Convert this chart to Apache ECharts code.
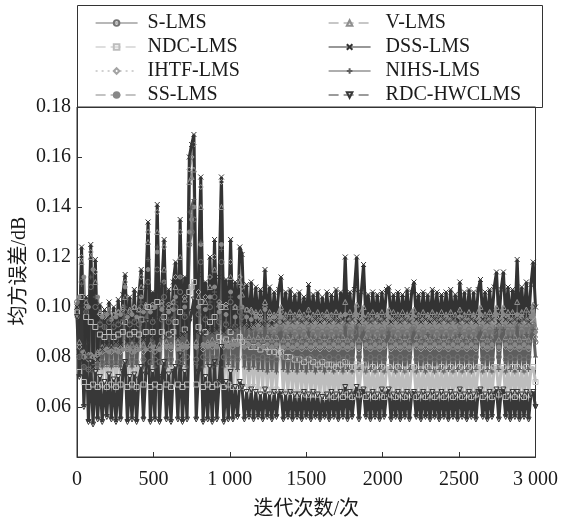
<!DOCTYPE html>
<html>
<head>
<meta charset="utf-8">
<script src="https://cdn.jsdelivr.net/npm/echarts@6/dist/echarts.min.js"></script>
<style>
  html, body { margin: 0; padding: 0; background: #fff; }
  #chart { width: 561px; height: 525px; }
</style>
</head>
<body>
<div id="chart"></div>
<script>
// Mean-square error of eight adaptive filters, sampled every 15 iterations (0 … 3000)
const ITER_STEP = 15;

const xTickLabels = ['0', '500', '1 000', '1500', '2000', '2500', '3 000'];
const yTickLabels = ['', '0.06', '0.08', '0.10', '0.12', '0.14', '0.16', '0.18'];

const legendLeft = ['S-LMS', 'NDC-LMS', 'IHTF-LMS', 'SS-LMS'];
const legendRight = ['V-LMS', 'DSS-LMS', 'NIHS-LMS', 'RDC-HWCLMS'];

const sLms = [
  0.102, 0.080, 0.110, 0.076, 0.098, 0.075, 0.108, 0.076, 0.100, 0.077,
  0.093, 0.078, 0.092, 0.077, 0.094, 0.078, 0.092, 0.077, 0.093, 0.078,
  0.094, 0.098, 0.078, 0.093, 0.079, 0.094, 0.078, 0.093, 0.100, 0.079,
  0.095, 0.110, 0.078, 0.094, 0.079, 0.115, 0.078, 0.095, 0.104, 0.079,
  0.094, 0.079, 0.095, 0.100, 0.078, 0.106, 0.079, 0.096, 0.080, 0.125,
  0.130, 0.135, 0.079, 0.097, 0.118, 0.080, 0.095, 0.079, 0.100, 0.080,
  0.104, 0.079, 0.094, 0.118, 0.080, 0.093, 0.079, 0.102, 0.080, 0.092,
  0.079, 0.098, 0.096, 0.080, 0.092, 0.079, 0.091, 0.080, 0.092, 0.079,
  0.091, 0.080, 0.094, 0.079, 0.091, 0.080, 0.090, 0.079, 0.091, 0.092,
  0.080, 0.090, 0.079, 0.091, 0.080, 0.090, 0.079, 0.091, 0.080, 0.090,
  0.079, 0.092, 0.080, 0.090, 0.079, 0.091, 0.080, 0.090, 0.079, 0.091,
  0.080, 0.090, 0.079, 0.091, 0.080, 0.090, 0.079, 0.093, 0.080, 0.091,
  0.079, 0.090, 0.093, 0.080, 0.091, 0.092, 0.079, 0.090, 0.080, 0.091,
  0.079, 0.090, 0.080, 0.091, 0.079, 0.090, 0.092, 0.080, 0.091, 0.079,
  0.090, 0.080, 0.091, 0.079, 0.090, 0.080, 0.091, 0.092, 0.079, 0.090,
  0.080, 0.091, 0.079, 0.090, 0.080, 0.091, 0.079, 0.090, 0.080, 0.091,
  0.079, 0.090, 0.080, 0.091, 0.079, 0.090, 0.080, 0.092, 0.079, 0.090,
  0.080, 0.091, 0.079, 0.090, 0.080, 0.091, 0.092, 0.079, 0.090, 0.080,
  0.091, 0.079, 0.090, 0.092, 0.080, 0.091, 0.092, 0.079, 0.091, 0.080,
  0.091, 0.079, 0.093, 0.080, 0.091, 0.079, 0.092, 0.080, 0.091, 0.093,
  0.086
];

const vLms = [
  0.100, 0.086, 0.118, 0.082, 0.102, 0.081, 0.120, 0.080, 0.110, 0.082,
  0.098, 0.084, 0.097, 0.083, 0.099, 0.084, 0.097, 0.083, 0.098, 0.084,
  0.100, 0.104, 0.084, 0.099, 0.085, 0.100, 0.084, 0.099, 0.108, 0.085,
  0.101, 0.126, 0.085, 0.100, 0.084, 0.130, 0.085, 0.101, 0.115, 0.086,
  0.100, 0.085, 0.102, 0.108, 0.086, 0.120, 0.085, 0.103, 0.086, 0.150,
  0.152, 0.155, 0.086, 0.104, 0.140, 0.085, 0.102, 0.086, 0.108, 0.087,
  0.115, 0.086, 0.101, 0.140, 0.087, 0.100, 0.086, 0.112, 0.087, 0.100,
  0.087, 0.110, 0.105, 0.087, 0.099, 0.088, 0.099, 0.087, 0.098, 0.088,
  0.098, 0.087, 0.102, 0.088, 0.098, 0.087, 0.097, 0.088, 0.098, 0.100,
  0.087, 0.097, 0.088, 0.098, 0.087, 0.097, 0.088, 0.098, 0.087, 0.097,
  0.088, 0.099, 0.087, 0.097, 0.088, 0.098, 0.087, 0.097, 0.088, 0.098,
  0.087, 0.097, 0.088, 0.098, 0.087, 0.097, 0.088, 0.102, 0.087, 0.098,
  0.088, 0.097, 0.101, 0.087, 0.098, 0.100, 0.088, 0.097, 0.087, 0.098,
  0.088, 0.097, 0.087, 0.098, 0.088, 0.097, 0.099, 0.087, 0.098, 0.088,
  0.097, 0.087, 0.098, 0.088, 0.097, 0.087, 0.098, 0.099, 0.088, 0.097,
  0.087, 0.098, 0.088, 0.097, 0.087, 0.098, 0.088, 0.097, 0.087, 0.098,
  0.088, 0.097, 0.087, 0.098, 0.088, 0.097, 0.087, 0.099, 0.088, 0.097,
  0.087, 0.098, 0.088, 0.097, 0.087, 0.098, 0.100, 0.088, 0.097, 0.087,
  0.098, 0.088, 0.097, 0.100, 0.087, 0.098, 0.100, 0.088, 0.098, 0.087,
  0.098, 0.088, 0.102, 0.087, 0.098, 0.088, 0.099, 0.087, 0.098, 0.101,
  0.092
];

const ndcLms = [
  0.098, 0.074, 0.104, 0.070, 0.096, 0.068, 0.094, 0.069, 0.092, 0.068,
  0.089, 0.069, 0.088, 0.068, 0.090, 0.069, 0.088, 0.068, 0.089, 0.069,
  0.090, 0.094, 0.068, 0.089, 0.069, 0.090, 0.068, 0.089, 0.095, 0.069,
  0.090, 0.100, 0.068, 0.090, 0.069, 0.102, 0.068, 0.090, 0.096, 0.069,
  0.089, 0.068, 0.090, 0.094, 0.069, 0.098, 0.068, 0.091, 0.069, 0.106,
  0.108, 0.110, 0.069, 0.092, 0.102, 0.068, 0.090, 0.069, 0.094, 0.068,
  0.096, 0.069, 0.088, 0.100, 0.068, 0.087, 0.069, 0.090, 0.068, 0.086,
  0.068, 0.088, 0.086, 0.068, 0.085, 0.067, 0.084, 0.068, 0.084, 0.067,
  0.083, 0.067, 0.084, 0.067, 0.082, 0.066, 0.082, 0.067, 0.081, 0.082,
  0.066, 0.080, 0.066, 0.080, 0.066, 0.079, 0.065, 0.079, 0.066, 0.078,
  0.065, 0.079, 0.065, 0.078, 0.065, 0.077, 0.065, 0.078, 0.064, 0.077,
  0.065, 0.077, 0.064, 0.076, 0.065, 0.077, 0.064, 0.078, 0.065, 0.076,
  0.064, 0.076, 0.077, 0.065, 0.076, 0.077, 0.064, 0.075, 0.065, 0.076,
  0.064, 0.075, 0.065, 0.076, 0.064, 0.075, 0.076, 0.065, 0.075, 0.064,
  0.076, 0.065, 0.075, 0.064, 0.075, 0.065, 0.076, 0.076, 0.064, 0.075,
  0.065, 0.075, 0.064, 0.076, 0.065, 0.075, 0.064, 0.075, 0.065, 0.076,
  0.064, 0.075, 0.065, 0.076, 0.064, 0.075, 0.065, 0.076, 0.064, 0.075,
  0.065, 0.076, 0.064, 0.075, 0.065, 0.076, 0.076, 0.064, 0.075, 0.065,
  0.075, 0.064, 0.076, 0.076, 0.065, 0.075, 0.076, 0.064, 0.075, 0.065,
  0.076, 0.064, 0.076, 0.065, 0.075, 0.064, 0.076, 0.065, 0.075, 0.076,
  0.070
];

const dssLms = [
  0.100, 0.082, 0.124, 0.078, 0.104, 0.080, 0.125, 0.076, 0.119, 0.079,
  0.101, 0.083, 0.099, 0.085, 0.102, 0.084, 0.100, 0.086, 0.103, 0.085,
  0.105, 0.113, 0.086, 0.104, 0.087, 0.107, 0.086, 0.105, 0.115, 0.087,
  0.108, 0.134, 0.088, 0.106, 0.087, 0.141, 0.088, 0.109, 0.127, 0.088,
  0.107, 0.089, 0.110, 0.118, 0.088, 0.135, 0.089, 0.112, 0.090, 0.160,
  0.165, 0.169, 0.090, 0.113, 0.152, 0.089, 0.110, 0.091, 0.120, 0.090,
  0.127, 0.091, 0.112, 0.152, 0.090, 0.111, 0.092, 0.127, 0.091, 0.110,
  0.092, 0.124, 0.121, 0.093, 0.109, 0.092, 0.110, 0.093, 0.108, 0.094,
  0.107, 0.093, 0.115, 0.094, 0.108, 0.093, 0.106, 0.094, 0.107, 0.112,
  0.094, 0.106, 0.095, 0.107, 0.094, 0.105, 0.095, 0.106, 0.094, 0.104,
  0.095, 0.109, 0.094, 0.105, 0.095, 0.106, 0.094, 0.104, 0.095, 0.106,
  0.094, 0.105, 0.095, 0.107, 0.094, 0.106, 0.095, 0.120, 0.094, 0.106,
  0.095, 0.107, 0.120, 0.094, 0.106, 0.117, 0.095, 0.105, 0.094, 0.106,
  0.095, 0.105, 0.094, 0.106, 0.095, 0.107, 0.108, 0.094, 0.105, 0.095,
  0.106, 0.094, 0.105, 0.095, 0.107, 0.094, 0.106, 0.110, 0.095, 0.105,
  0.094, 0.106, 0.095, 0.105, 0.094, 0.107, 0.095, 0.106, 0.094, 0.105,
  0.095, 0.106, 0.094, 0.107, 0.095, 0.105, 0.094, 0.110, 0.095, 0.106,
  0.094, 0.107, 0.095, 0.106, 0.094, 0.107, 0.111, 0.095, 0.106, 0.094,
  0.107, 0.095, 0.108, 0.114, 0.094, 0.107, 0.114, 0.095, 0.108, 0.094,
  0.107, 0.095, 0.119, 0.094, 0.108, 0.095, 0.110, 0.094, 0.109, 0.118,
  0.100
];

const ihtfLms = [
  0.098, 0.084, 0.120, 0.080, 0.100, 0.079, 0.122, 0.080, 0.114, 0.081,
  0.097, 0.082, 0.096, 0.083, 0.098, 0.082, 0.097, 0.083, 0.098, 0.082,
  0.099, 0.110, 0.083, 0.098, 0.082, 0.100, 0.083, 0.099, 0.112, 0.082,
  0.100, 0.130, 0.083, 0.101, 0.082, 0.138, 0.083, 0.102, 0.124, 0.084,
  0.101, 0.083, 0.102, 0.112, 0.084, 0.130, 0.083, 0.104, 0.084, 0.155,
  0.160, 0.165, 0.084, 0.106, 0.148, 0.083, 0.104, 0.085, 0.112, 0.084,
  0.120, 0.085, 0.102, 0.150, 0.084, 0.101, 0.085, 0.118, 0.084, 0.100,
  0.085, 0.112, 0.108, 0.084, 0.099, 0.085, 0.098, 0.084, 0.097, 0.085,
  0.096, 0.084, 0.100, 0.083, 0.096, 0.084, 0.095, 0.083, 0.096, 0.098,
  0.083, 0.095, 0.084, 0.094, 0.083, 0.095, 0.084, 0.094, 0.083, 0.095,
  0.084, 0.096, 0.083, 0.094, 0.084, 0.095, 0.083, 0.094, 0.084, 0.095,
  0.083, 0.094, 0.084, 0.095, 0.083, 0.094, 0.084, 0.097, 0.083, 0.095,
  0.084, 0.094, 0.096, 0.083, 0.095, 0.096, 0.084, 0.094, 0.083, 0.095,
  0.084, 0.094, 0.083, 0.095, 0.084, 0.094, 0.096, 0.083, 0.095, 0.084,
  0.094, 0.083, 0.095, 0.084, 0.094, 0.083, 0.095, 0.096, 0.084, 0.094,
  0.083, 0.095, 0.084, 0.094, 0.083, 0.095, 0.084, 0.094, 0.083, 0.095,
  0.084, 0.094, 0.083, 0.095, 0.084, 0.094, 0.083, 0.096, 0.084, 0.094,
  0.083, 0.095, 0.084, 0.094, 0.083, 0.095, 0.096, 0.084, 0.094, 0.083,
  0.095, 0.084, 0.094, 0.096, 0.083, 0.095, 0.096, 0.084, 0.095, 0.083,
  0.095, 0.084, 0.096, 0.083, 0.095, 0.084, 0.094, 0.083, 0.095, 0.096,
  0.088
];

const nihsLms = [
  0.100, 0.080, 0.109, 0.076, 0.098, 0.075, 0.112, 0.074, 0.104, 0.075,
  0.094, 0.076, 0.092, 0.077, 0.095, 0.076, 0.093, 0.077, 0.094, 0.076,
  0.095, 0.100, 0.077, 0.094, 0.076, 0.095, 0.077, 0.094, 0.102, 0.076,
  0.096, 0.119, 0.077, 0.095, 0.076, 0.124, 0.077, 0.096, 0.110, 0.076,
  0.095, 0.077, 0.096, 0.102, 0.076, 0.112, 0.077, 0.097, 0.076, 0.138,
  0.140, 0.143, 0.077, 0.098, 0.126, 0.076, 0.096, 0.077, 0.102, 0.076,
  0.106, 0.077, 0.095, 0.123, 0.076, 0.094, 0.077, 0.104, 0.076, 0.093,
  0.075, 0.100, 0.097, 0.076, 0.092, 0.075, 0.091, 0.076, 0.090, 0.075,
  0.089, 0.075, 0.093, 0.074, 0.089, 0.075, 0.088, 0.074, 0.089, 0.090,
  0.075, 0.088, 0.074, 0.089, 0.075, 0.087, 0.074, 0.088, 0.075, 0.087,
  0.074, 0.090, 0.075, 0.088, 0.074, 0.087, 0.075, 0.088, 0.074, 0.088,
  0.075, 0.087, 0.074, 0.088, 0.075, 0.088, 0.074, 0.092, 0.075, 0.088,
  0.074, 0.087, 0.092, 0.075, 0.088, 0.090, 0.074, 0.087, 0.075, 0.088,
  0.074, 0.087, 0.075, 0.088, 0.074, 0.087, 0.090, 0.075, 0.088, 0.074,
  0.087, 0.075, 0.088, 0.074, 0.088, 0.075, 0.087, 0.090, 0.074, 0.088,
  0.075, 0.087, 0.074, 0.089, 0.075, 0.088, 0.074, 0.087, 0.075, 0.088,
  0.074, 0.088, 0.075, 0.087, 0.074, 0.088, 0.075, 0.089, 0.074, 0.087,
  0.075, 0.088, 0.074, 0.087, 0.075, 0.088, 0.090, 0.074, 0.088, 0.075,
  0.088, 0.074, 0.087, 0.091, 0.075, 0.088, 0.091, 0.074, 0.088, 0.075,
  0.088, 0.074, 0.092, 0.075, 0.088, 0.074, 0.089, 0.075, 0.088, 0.091,
  0.080
];

const ssLms = [
  0.096, 0.104, 0.082, 0.112, 0.080, 0.100, 0.081, 0.115, 0.080, 0.104,
  0.082, 0.096, 0.083, 0.097, 0.082, 0.095, 0.083, 0.096, 0.082, 0.097,
  0.083, 0.108, 0.096, 0.083, 0.097, 0.082, 0.096, 0.083, 0.104, 0.098,
  0.083, 0.115, 0.098, 0.084, 0.100, 0.122, 0.083, 0.099, 0.110, 0.084,
  0.098, 0.084, 0.099, 0.104, 0.083, 0.112, 0.084, 0.100, 0.084, 0.130,
  0.135, 0.140, 0.084, 0.100, 0.125, 0.085, 0.099, 0.084, 0.104, 0.085,
  0.108, 0.084, 0.098, 0.125, 0.085, 0.097, 0.084, 0.106, 0.085, 0.096,
  0.085, 0.104, 0.100, 0.084, 0.096, 0.085, 0.095, 0.084, 0.096, 0.085,
  0.095, 0.084, 0.099, 0.085, 0.095, 0.084, 0.096, 0.085, 0.094, 0.096,
  0.084, 0.095, 0.085, 0.094, 0.084, 0.095, 0.085, 0.096, 0.084, 0.095,
  0.085, 0.096, 0.084, 0.095, 0.085, 0.094, 0.084, 0.095, 0.085, 0.096,
  0.084, 0.095, 0.085, 0.094, 0.084, 0.096, 0.085, 0.097, 0.084, 0.095,
  0.085, 0.096, 0.097, 0.084, 0.095, 0.096, 0.085, 0.094, 0.084, 0.095,
  0.085, 0.096, 0.084, 0.095, 0.085, 0.094, 0.096, 0.084, 0.095, 0.085,
  0.094, 0.084, 0.095, 0.085, 0.096, 0.084, 0.095, 0.096, 0.085, 0.094,
  0.084, 0.095, 0.085, 0.096, 0.084, 0.095, 0.085, 0.094, 0.084, 0.095,
  0.085, 0.096, 0.084, 0.095, 0.085, 0.094, 0.084, 0.096, 0.085, 0.095,
  0.084, 0.095, 0.085, 0.096, 0.084, 0.095, 0.097, 0.085, 0.094, 0.084,
  0.095, 0.085, 0.096, 0.097, 0.084, 0.095, 0.097, 0.085, 0.096, 0.084,
  0.095, 0.085, 0.097, 0.084, 0.096, 0.085, 0.095, 0.084, 0.096, 0.097,
  0.090
];

const rdcHwclms = [
  0.096, 0.072, 0.100, 0.060, 0.085, 0.054, 0.078, 0.053, 0.074, 0.055,
  0.072, 0.054, 0.070, 0.056, 0.073, 0.055, 0.071, 0.054, 0.072, 0.055,
  0.074, 0.078, 0.054, 0.072, 0.055, 0.073, 0.054, 0.071, 0.076, 0.055,
  0.073, 0.094, 0.054, 0.074, 0.055, 0.095, 0.054, 0.072, 0.078, 0.055,
  0.073, 0.054, 0.074, 0.076, 0.055, 0.081, 0.054, 0.074, 0.055, 0.094,
  0.098, 0.103, 0.055, 0.074, 0.089, 0.054, 0.072, 0.055, 0.076, 0.054,
  0.078, 0.055, 0.070, 0.084, 0.054, 0.070, 0.055, 0.074, 0.055, 0.068,
  0.056, 0.070, 0.068, 0.055, 0.066, 0.056, 0.067, 0.055, 0.066, 0.056,
  0.065, 0.055, 0.067, 0.056, 0.065, 0.055, 0.066, 0.056, 0.065, 0.066,
  0.055, 0.065, 0.056, 0.066, 0.055, 0.065, 0.056, 0.065, 0.055, 0.066,
  0.056, 0.065, 0.055, 0.066, 0.056, 0.065, 0.055, 0.064, 0.056, 0.065,
  0.055, 0.066, 0.056, 0.065, 0.055, 0.066, 0.056, 0.068, 0.055, 0.066,
  0.056, 0.065, 0.068, 0.055, 0.066, 0.067, 0.056, 0.065, 0.055, 0.066,
  0.056, 0.065, 0.055, 0.067, 0.056, 0.065, 0.067, 0.055, 0.065, 0.056,
  0.066, 0.055, 0.065, 0.056, 0.066, 0.055, 0.065, 0.066, 0.056, 0.065,
  0.055, 0.066, 0.056, 0.065, 0.055, 0.066, 0.056, 0.065, 0.055, 0.066,
  0.056, 0.065, 0.055, 0.066, 0.056, 0.065, 0.055, 0.067, 0.056, 0.065,
  0.055, 0.066, 0.056, 0.065, 0.055, 0.066, 0.067, 0.056, 0.065, 0.055,
  0.066, 0.056, 0.065, 0.067, 0.055, 0.066, 0.067, 0.056, 0.065, 0.055,
  0.066, 0.056, 0.066, 0.055, 0.065, 0.056, 0.066, 0.055, 0.065, 0.066,
  0.060
];

const FONT = "'Liberation Serif', 'Times New Roman', 'Noto Sans CJK SC', serif";
const CROSS = 'path://M0,0L10,10M0,10L10,0';
const PLUS = 'path://M5,0L5,10M0,5L10,5';

// Drawing order: lighter curves first so the dark ones sit on top.
const plotted = [
  { name: 'NDC-LMS',    values: ndcLms,    color: '#bdbdbd', dash: [10, 5], symbol: 'rect',     hollow: true },
  { name: 'IHTF-LMS',   values: ihtfLms,   color: '#a4a4a4', dash: [2, 4],  symbol: 'diamond',  hollow: true },
  { name: 'V-LMS',      values: vLms,      color: '#8f8f8f', dash: [10, 5], symbol: 'triangle', hollow: true },
  { name: 'SS-LMS',     values: ssLms,     color: '#888888', dash: [10, 5], symbol: 'circle',   hollow: false },
  { name: 'S-LMS',      values: sLms,      color: '#737373', dash: 'solid', symbol: 'circle',   hollow: true },
  { name: 'NIHS-LMS',   values: nihsLms,   color: '#5e5e5e', dash: 'solid', symbol: PLUS,       hollow: true },
  { name: 'DSS-LMS',    values: dssLms,    color: '#333333', dash: 'solid', symbol: CROSS,      hollow: true },
  { name: 'RDC-HWCLMS', values: rdcHwclms, color: '#383838', dash: [10, 5], symbol: 'triangle', hollow: true, rotate: 180 }
];

const series = plotted.map(p => ({
  name: p.name,
  type: 'line',
  data: p.values.map((v, i) => [i * ITER_STEP, v]),
  showSymbol: true,
  symbol: p.symbol,
  symbolSize: p.hollow ? 5 : 4,
  symbolRotate: p.rotate || 0,
  lineStyle: { color: p.color, width: 3, type: 'solid', join: 'miter', miterLimit: 2 },
  itemStyle: {
    color: p.hollow ? 'rgba(0,0,0,0)' : p.color,
    borderColor: p.color,
    borderWidth: 1
  },
  emphasis: { disabled: true },
  animation: false
}));

// legend entries keep the dash pattern of each curve
const legendItem = name => {
  const p = plotted.find(q => q.name === name);
  return { name, lineStyle: { color: p.color, width: 1.2, type: p.dash } };
};

const legendBase = {
  orient: 'vertical',
  top: 11,
  padding: 0,
  itemWidth: 42,
  itemHeight: 7,
  itemGap: 0,
  selectedMode: false
};
const legendText = pad => ({
  fontFamily: FONT, fontSize: 20, color: '#1a1a1a', lineHeight: 24, padding: [0, 0, 0, pad]
});

const option = {
  backgroundColor: '#fff',
  animation: false,
  grid: {
    left: 77, right: 19, top: 107, bottom: 64,
    show: true, borderColor: '#333', borderWidth: 1, backgroundColor: 'rgba(0,0,0,0)'
  },
  legend: [
    Object.assign({}, legendBase, { left: 95, data: legendLeft.map(legendItem), textStyle: legendText(5) }),
    Object.assign({}, legendBase, { left: 328, data: legendRight.map(legendItem), textStyle: legendText(10) })
  ],
  xAxis: {
    type: 'value',
    min: 0, max: 3000, interval: 500,
    name: '迭代次数/次',
    nameLocation: 'middle',
    nameGap: 43,
    nameTextStyle: { fontFamily: FONT, fontSize: 20, color: '#1a1a1a' },
    axisLine: { show: true, lineStyle: { color: '#333', width: 1 } },
    axisTick: { show: true, inside: true, length: 5, lineStyle: { color: '#333' } },
    splitLine: { show: false },
    axisLabel: {
      margin: 13,
      fontFamily: FONT, fontSize: 20, color: '#1a1a1a',
      formatter: v => xTickLabels[Math.round(v / 500)]
    }
  },
  yAxis: {
    type: 'value',
    min: 0.04, max: 0.18, interval: 0.02,
    axisLine: { show: true, lineStyle: { color: '#333', width: 1 } },
    axisTick: { show: true, inside: true, length: 5, lineStyle: { color: '#333' } },
    splitLine: { show: false },
    axisLabel: {
      margin: 6,
      padding: [4, 0, 0, 0],
      fontFamily: FONT, fontSize: 20, color: '#1a1a1a',
      formatter: v => yTickLabels[Math.round((v - 0.04) / 0.02)]
    }
  },
  graphic: [
    {
      type: 'rect',
      left: 77, top: 5,
      shape: { width: 465, height: 102 },
      style: { fill: 'rgba(0,0,0,0)', stroke: '#333', lineWidth: 1 },
      silent: true
    },
    {
      type: 'text',
      x: 20, y: 271,
      rotation: Math.PI / 2,
      style: {
        text: '均方误差/dB',
        font: "20px 'Liberation Serif', 'Noto Sans CJK SC', serif",
        fill: '#1a1a1a',
        textAlign: 'center',
        textVerticalAlign: 'middle'
      },
      silent: true
    }
  ],
  series
};

const chart = echarts.init(document.getElementById('chart'), null, { renderer: 'canvas' });
chart.setOption(option);
</script>
</body>
</html>
